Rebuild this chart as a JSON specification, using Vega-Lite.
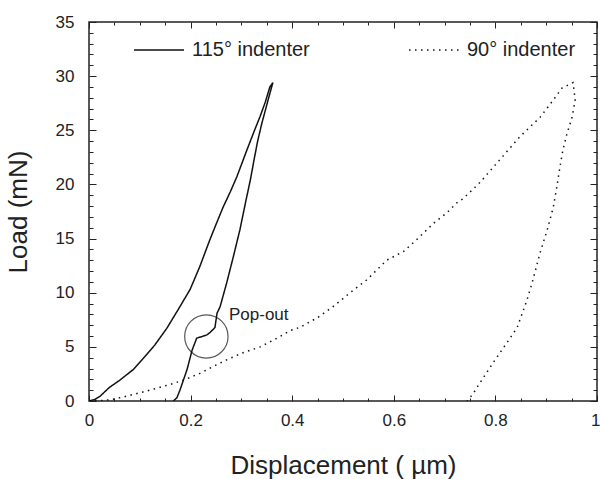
{
  "$schema": "https://vega.github.io/schema/vega-lite/v6.json",
  "width": 508,
  "height": 379,
  "autosize": "none",
  "padding": {"left": 89, "top": 22, "right": 3, "bottom": 78},
  "background": "white",
  "config": {
    "view": {"stroke": "#222", "strokeWidth": 1.5},
    "font": "Liberation Sans",
    "axis": {"domain": false, "ticks": false, "grid": true, "gridColor": "#222", "gridWidth": 1, "gridOpacity": 1, "labelColor": "#222", "labelFont": "Liberation Sans", "labelFontSize": 17, "titleFont": "Liberation Sans", "titleFontWeight": "normal", "titleColor": "#222", "labelOverlap": false, "labelBound": false, "labelFlush": false}
  },
  "datasets": {
    "curves": [
      {"s": "115° indenter", "i": 0, "x": 0.0, "y": 0.0},
      {"s": "115° indenter", "i": 1, "x": 0.012, "y": 0.15},
      {"s": "115° indenter", "i": 2, "x": 0.022, "y": 0.45},
      {"s": "115° indenter", "i": 3, "x": 0.04, "y": 1.25},
      {"s": "115° indenter", "i": 4, "x": 0.06, "y": 1.9},
      {"s": "115° indenter", "i": 5, "x": 0.087, "y": 2.9},
      {"s": "115° indenter", "i": 6, "x": 0.11, "y": 4.1},
      {"s": "115° indenter", "i": 7, "x": 0.13, "y": 5.2},
      {"s": "115° indenter", "i": 8, "x": 0.153, "y": 6.7},
      {"s": "115° indenter", "i": 9, "x": 0.175, "y": 8.4},
      {"s": "115° indenter", "i": 10, "x": 0.199, "y": 10.3},
      {"s": "115° indenter", "i": 11, "x": 0.218, "y": 12.4},
      {"s": "115° indenter", "i": 12, "x": 0.238, "y": 14.9},
      {"s": "115° indenter", "i": 13, "x": 0.25, "y": 16.3},
      {"s": "115° indenter", "i": 14, "x": 0.264, "y": 17.9},
      {"s": "115° indenter", "i": 15, "x": 0.278, "y": 19.3},
      {"s": "115° indenter", "i": 16, "x": 0.291, "y": 20.7},
      {"s": "115° indenter", "i": 17, "x": 0.311, "y": 23.2},
      {"s": "115° indenter", "i": 18, "x": 0.325, "y": 24.9},
      {"s": "115° indenter", "i": 19, "x": 0.337, "y": 26.3},
      {"s": "115° indenter", "i": 20, "x": 0.347, "y": 27.6},
      {"s": "115° indenter", "i": 21, "x": 0.356, "y": 29.0},
      {"s": "115° indenter", "i": 22, "x": 0.362, "y": 29.4},
      {"s": "115° indenter", "i": 23, "x": 0.356, "y": 28.4},
      {"s": "115° indenter", "i": 24, "x": 0.348, "y": 27.0},
      {"s": "115° indenter", "i": 25, "x": 0.34, "y": 25.6},
      {"s": "115° indenter", "i": 26, "x": 0.332, "y": 24.0},
      {"s": "115° indenter", "i": 27, "x": 0.325, "y": 22.3},
      {"s": "115° indenter", "i": 28, "x": 0.318, "y": 20.5},
      {"s": "115° indenter", "i": 29, "x": 0.308, "y": 18.3},
      {"s": "115° indenter", "i": 30, "x": 0.297, "y": 15.8},
      {"s": "115° indenter", "i": 31, "x": 0.284, "y": 13.3},
      {"s": "115° indenter", "i": 32, "x": 0.271, "y": 10.9},
      {"s": "115° indenter", "i": 33, "x": 0.258, "y": 8.7},
      {"s": "115° indenter", "i": 34, "x": 0.252, "y": 8.1},
      {"s": "115° indenter", "i": 35, "x": 0.248, "y": 6.8},
      {"s": "115° indenter", "i": 36, "x": 0.24, "y": 6.4},
      {"s": "115° indenter", "i": 37, "x": 0.232, "y": 6.1},
      {"s": "115° indenter", "i": 38, "x": 0.212, "y": 5.8},
      {"s": "115° indenter", "i": 39, "x": 0.203, "y": 4.7},
      {"s": "115° indenter", "i": 40, "x": 0.193, "y": 2.9},
      {"s": "115° indenter", "i": 41, "x": 0.179, "y": 1.0},
      {"s": "115° indenter", "i": 42, "x": 0.173, "y": 0.3},
      {"s": "115° indenter", "i": 43, "x": 0.166, "y": 0.0},
      {"s": "90° indenter", "i": 0, "x": 0.0, "y": 0.0},
      {"s": "90° indenter", "i": 1, "x": 0.02, "y": 0.03},
      {"s": "90° indenter", "i": 2, "x": 0.041, "y": 0.1},
      {"s": "90° indenter", "i": 3, "x": 0.07, "y": 0.4},
      {"s": "90° indenter", "i": 4, "x": 0.106, "y": 0.83},
      {"s": "90° indenter", "i": 5, "x": 0.135, "y": 1.2},
      {"s": "90° indenter", "i": 6, "x": 0.165, "y": 1.6},
      {"s": "90° indenter", "i": 7, "x": 0.19, "y": 2.0},
      {"s": "90° indenter", "i": 8, "x": 0.218, "y": 2.55},
      {"s": "90° indenter", "i": 9, "x": 0.245, "y": 3.2},
      {"s": "90° indenter", "i": 10, "x": 0.271, "y": 3.8},
      {"s": "90° indenter", "i": 11, "x": 0.3, "y": 4.4},
      {"s": "90° indenter", "i": 12, "x": 0.337, "y": 5.0},
      {"s": "90° indenter", "i": 13, "x": 0.37, "y": 5.8},
      {"s": "90° indenter", "i": 14, "x": 0.396, "y": 6.5},
      {"s": "90° indenter", "i": 15, "x": 0.415, "y": 6.8},
      {"s": "90° indenter", "i": 16, "x": 0.45, "y": 7.7},
      {"s": "90° indenter", "i": 17, "x": 0.48, "y": 8.7},
      {"s": "90° indenter", "i": 18, "x": 0.514, "y": 10.0},
      {"s": "90° indenter", "i": 19, "x": 0.547, "y": 11.2},
      {"s": "90° indenter", "i": 20, "x": 0.586, "y": 13.0},
      {"s": "90° indenter", "i": 21, "x": 0.619, "y": 13.8},
      {"s": "90° indenter", "i": 22, "x": 0.645, "y": 14.9},
      {"s": "90° indenter", "i": 23, "x": 0.678, "y": 16.4},
      {"s": "90° indenter", "i": 24, "x": 0.705, "y": 17.4},
      {"s": "90° indenter", "i": 25, "x": 0.724, "y": 18.3},
      {"s": "90° indenter", "i": 26, "x": 0.737, "y": 18.7},
      {"s": "90° indenter", "i": 27, "x": 0.77, "y": 20.2},
      {"s": "90° indenter", "i": 28, "x": 0.809, "y": 22.3},
      {"s": "90° indenter", "i": 29, "x": 0.848, "y": 24.4},
      {"s": "90° indenter", "i": 30, "x": 0.888, "y": 26.2},
      {"s": "90° indenter", "i": 31, "x": 0.914, "y": 27.8},
      {"s": "90° indenter", "i": 32, "x": 0.931, "y": 28.9},
      {"s": "90° indenter", "i": 33, "x": 0.953, "y": 29.4},
      {"s": "90° indenter", "i": 34, "x": 0.957, "y": 27.8},
      {"s": "90° indenter", "i": 35, "x": 0.951, "y": 26.2},
      {"s": "90° indenter", "i": 36, "x": 0.941, "y": 24.7},
      {"s": "90° indenter", "i": 37, "x": 0.933, "y": 23.2},
      {"s": "90° indenter", "i": 38, "x": 0.927, "y": 21.6},
      {"s": "90° indenter", "i": 39, "x": 0.921, "y": 19.8},
      {"s": "90° indenter", "i": 40, "x": 0.914, "y": 17.9},
      {"s": "90° indenter", "i": 41, "x": 0.902, "y": 15.8},
      {"s": "90° indenter", "i": 42, "x": 0.888, "y": 13.7},
      {"s": "90° indenter", "i": 43, "x": 0.874, "y": 11.2},
      {"s": "90° indenter", "i": 44, "x": 0.862, "y": 9.3},
      {"s": "90° indenter", "i": 45, "x": 0.843, "y": 6.8},
      {"s": "90° indenter", "i": 46, "x": 0.823, "y": 5.4},
      {"s": "90° indenter", "i": 47, "x": 0.795, "y": 3.5},
      {"s": "90° indenter", "i": 48, "x": 0.77, "y": 1.7},
      {"s": "90° indenter", "i": 49, "x": 0.755, "y": 0.6},
      {"s": "90° indenter", "i": 50, "x": 0.744, "y": 0.0}
    ],
    "circle": [
      {"x": 0.231, "y": 5.96}
    ],
    "label": [
      {"x": 0.2756, "y": 7.9, "label": "Pop-out"}
    ]
  },
  "encoding": {
    "x": {
      "field": "x", "type": "quantitative",
      "scale": {"domain": [0, 1], "nice": false, "zero": false},
      "axis": {
        "orient": "bottom",
        "title": "Displacement (  µm)",
        "titleFontSize": 26,
        "titlePadding": 24,
        "values": [0, 0.05, 0.1, 0.15, 0.2, 0.25, 0.3, 0.35, 0.4, 0.45, 0.5, 0.55, 0.6, 0.65, 0.7, 0.75, 0.8, 0.85, 0.9, 0.95, 1],
        "labelExpr": "abs(datum.value*5 - round(datum.value*5)) < 0.001 ? format(datum.value, '~g') : ''",
        "labelAlign": {"condition": {"test": "datum.value > 0.99", "value": "right"}, "value": "center"},
        "labelOffset": {"condition": {"test": "datum.value > 0.99", "value": 3}, "value": 0},
        "gridDash": {"condition": {"test": "abs(datum.value*5 - round(datum.value*5)) < 0.001", "value": [6, 367, 6, 1000]}, "value": [3, 373, 3, 1000]},
        "labelPadding": 11
      }
    },
    "y": {
      "field": "y", "type": "quantitative",
      "scale": {"domain": [0, 35], "nice": false},
      "axis": {
        "orient": "left",
        "title": "Load (mN)",
        "titleFontSize": 26,
        "titlePadding": 24,
        "values": [0,1,2,3,4,5,6,7,8,9,10,11,12,13,14,15,16,17,18,19,20,21,22,23,24,25,26,27,28,29,30,31,32,33,34,35],
        "labelExpr": "datum.value % 5 === 0 ? datum.label : ''",
        "gridDash": {"condition": {"test": "datum.value % 5 === 0", "value": [7, 494, 7, 1000]}, "value": [4, 500, 4, 1000]},
        "labelPadding": 15
      }
    }
  },
  "layer": [
    {
      "data": {"name": "curves"},
      "mark": {"type": "line", "strokeWidth": 1.5, "color": "#111", "clip": true},
      "encoding": {
        "order": {"field": "i", "type": "quantitative"},
        "detail": {"field": "s"},
        "strokeDash": {
          "field": "s", "type": "nominal",
          "scale": {"domain": ["115° indenter", "90° indenter"], "range": [[1, 0], [1.5, 4.5]]},
          "legend": {
            "title": null,
            "orient": "none",
            "direction": "horizontal",
            "legendX": 44,
            "legendY": 2,
            "symbolType": "stroke",
            "symbolSize": 2500,
            "symbolStrokeWidth": 1.5,
            "symbolStrokeColor": "#111",
            "labelFontSize": 20,
            "labelFont": "Liberation Sans",
            "labelColor": "#222",
            "labelOffset": 7,
            "columnPadding": 96,
            "padding": 0
          }
        }
      }
    },
    {
      "data": {"name": "circle"},
      "mark": {"type": "point", "shape": "circle", "size": 1880, "filled": false, "stroke": "#111", "strokeWidth": 1.2}
    },
    {
      "data": {"name": "label"},
      "mark": {"type": "text", "align": "left", "baseline": "middle", "fontSize": 17, "font": "Liberation Sans", "color": "#222"},
      "encoding": {
        "text": {"field": "label"}
      }
    }
  ]
}
